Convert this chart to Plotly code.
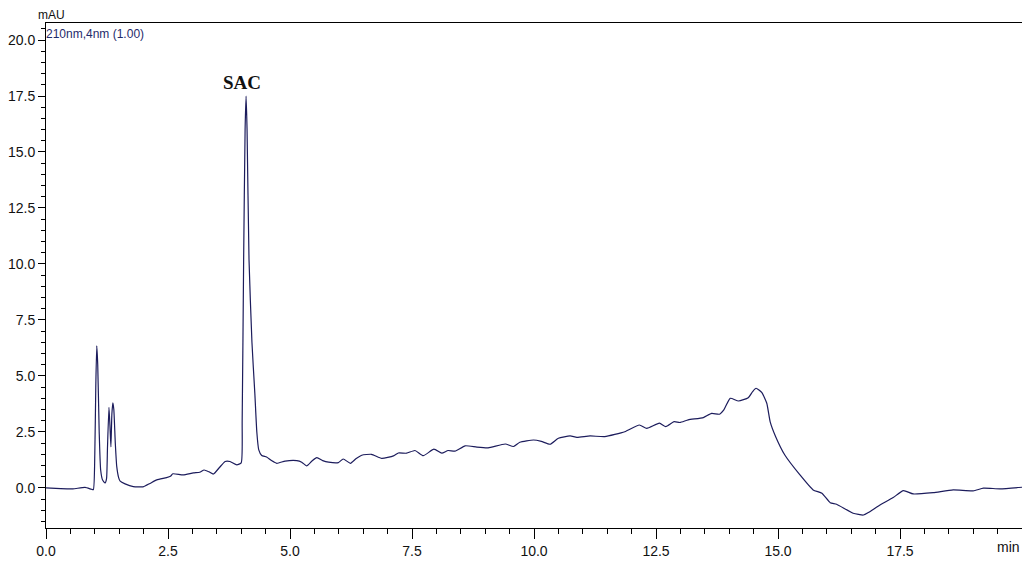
import plotly.graph_objects as go

time_min = [0.00, 0.30, 0.55, 0.80, 0.93, 0.97, 1.00, 1.02, 1.04, 1.06, 1.09, 1.12, 1.16, 1.21,
            1.24, 1.26, 1.29, 1.31, 1.33, 1.35, 1.37, 1.39, 1.42, 1.45, 1.49, 1.52, 1.62, 1.79,
            1.99, 2.13, 2.27, 2.47, 2.55, 2.60, 2.81, 3.02, 3.15, 3.24, 3.34, 3.43, 3.55, 3.67,
            3.77, 3.91, 4.00, 4.02, 4.05, 4.08, 4.10, 4.12, 4.16, 4.22, 4.28, 4.32, 4.36, 4.42,
            4.52, 4.62, 4.73, 4.90, 5.14, 5.24, 5.34, 5.45, 5.55, 5.67, 5.79, 5.99, 6.09, 6.24,
            6.35, 6.47, 6.67, 6.88, 7.12, 7.22, 7.39, 7.56, 7.73, 7.95, 8.11, 8.24, 8.38, 8.59,
            8.83, 9.06, 9.41, 9.58, 9.71, 9.99, 10.15, 10.33, 10.50, 10.74, 10.88, 11.15, 11.45,
            11.86, 12.16, 12.31, 12.57, 12.70, 12.87, 12.99, 13.16, 13.47, 13.64, 13.80, 13.89,
            14.02, 14.19, 14.39, 14.48, 14.55, 14.67, 14.77, 14.84, 14.95, 15.14, 15.45, 15.72,
            15.90, 16.07, 16.20, 16.54, 16.75, 16.85, 17.09, 17.36, 17.57, 17.77, 18.18, 18.59,
            19.00, 19.21, 19.55, 20.00]

absorbance_mau = [0.00, -0.03, -0.04, 0.02, -0.06, -0.08, 1.5, 4.5, 6.34, 5.5, 2.5, 0.8, 0.35, 0.22,
                  0.4, 1.8, 3.6, 2.8, 1.83, 3.3, 3.8, 3.5, 2.0, 0.95, 0.45, 0.30, 0.18, 0.06,
                  0.05, 0.20, 0.36, 0.46, 0.52, 0.63, 0.58, 0.67, 0.70, 0.80, 0.72, 0.62, 0.90, 1.18,
                  1.18, 1.03, 1.12, 3.0, 10.2, 16.0, 17.5, 16.0, 10.2, 6.5, 4.2, 2.5, 1.7, 1.45,
                  1.38, 1.22, 1.10, 1.20, 1.22, 1.15, 0.98, 1.20, 1.35, 1.22, 1.15, 1.13, 1.29, 1.10,
                  1.30, 1.46, 1.50, 1.32, 1.43, 1.56, 1.55, 1.67, 1.44, 1.73, 1.55, 1.67, 1.64, 1.88,
                  1.82, 1.79, 1.96, 1.85, 2.04, 2.14, 2.08, 1.95, 2.22, 2.32, 2.26, 2.32, 2.29,
                  2.51, 2.81, 2.66, 2.89, 2.74, 2.96, 2.92, 3.04, 3.14, 3.33, 3.29, 3.48,
                  4.00, 3.88, 4.03, 4.30, 4.45, 4.25, 3.78, 2.95, 2.30, 1.47, 0.58, -0.09,
                  -0.24, -0.66, -0.73, -1.13, -1.21, -1.10, -0.76, -0.43, -0.12, -0.27, -0.21, -0.09,
                  -0.13, -0.01, -0.04, 0.03]

x_tick_vals = [0.0, 2.5, 5.0, 7.5, 10.0, 12.5, 15.0, 17.5]
x_tick_text = ["0.0", "2.5", "5.0", "7.5", "10.0", "12.5", "15.0", "17.5"]
y_tick_vals = [0.0, 2.5, 5.0, 7.5, 10.0, 12.5, 15.0, 17.5, 20.0]
y_tick_text = ["0.0", "2.5", "5.0", "7.5", "10.0", "12.5", "15.0", "17.5", "20.0"]

peak_label = "SAC"
peak_time = 4.10
peak_height = 17.5

NAVY = "#1c1c5c"
TICKFONT = dict(family="Liberation Sans, Arial, sans-serif", size=14, color="#111111")

fig = go.Figure()
fig.add_trace(go.Scatter(x=time_min, y=absorbance_mau, mode="lines",
                         line=dict(color=NAVY, width=1.2, shape="spline", smoothing=0.5),
                         hoverinfo="skip", showlegend=False))

# page body has an 8px margin, so the figure is sized to fit the 1030x567 window
fig.update_layout(
    width=1022, height=559,
    margin=dict(l=38, r=8, t=15, b=39),
    paper_bgcolor="white", plot_bgcolor="white",
    xaxis=dict(range=[0, 20], tickvals=x_tick_vals + [20.0], ticktext=x_tick_text + [""],
               automargin=False,
               showgrid=False, zeroline=False, showline=True, linecolor="black", linewidth=1,
               mirror=True, ticks="outside", ticklen=10, tickcolor="black", tickwidth=1,
               tickfont=TICKFONT,
               minor=dict(dtick=0.5, tick0=0, ticks="outside", ticklen=5, tickcolor="black",
                          showgrid=False)),
    yaxis=dict(range=[-1.79, 20.76], tickvals=y_tick_vals, ticktext=y_tick_text,
               automargin=False,
               showgrid=False, zeroline=False, showline=True, linecolor="black", linewidth=1,
               mirror=True, ticks="outside", ticklen=7, tickcolor="black", tickwidth=1,
               tickfont=TICKFONT,
               minor=dict(dtick=0.5, tick0=0, ticks="outside", ticklen=4, tickcolor="black",
                          showgrid=False)),
)

fig.add_annotation(x=0, y=1, xref="paper", yref="paper", xanchor="right", yanchor="middle",
                   text="mAU", showarrow=False, xshift=20, yshift=8, borderpad=0,
                   font=dict(family=TICKFONT["family"], size=12, color="#111111"))
fig.add_annotation(x=0, y=1, xref="paper", yref="paper", xanchor="left", yanchor="top",
                   text="210nm,4nm (1.00)", showarrow=False, xshift=-2, yshift=-2,
                   font=dict(family=TICKFONT["family"], size=12, color="#1f2a6b"))
fig.add_annotation(x=20, y=0, xref="x", yref="paper", xanchor="right", yanchor="top",
                   text="min", showarrow=False, yshift=-9,
                   font=TICKFONT)
fig.add_annotation(x=peak_time, y=peak_height, xref="x", yref="y", xanchor="center",
                   yanchor="bottom", text="<b>" + peak_label + "</b>", showarrow=False,
                   yshift=1, xshift=-4,
                   font=dict(family="Liberation Serif, Times New Roman, serif", size=19,
                             color="#111111"))

fig.write_html("out.html")
